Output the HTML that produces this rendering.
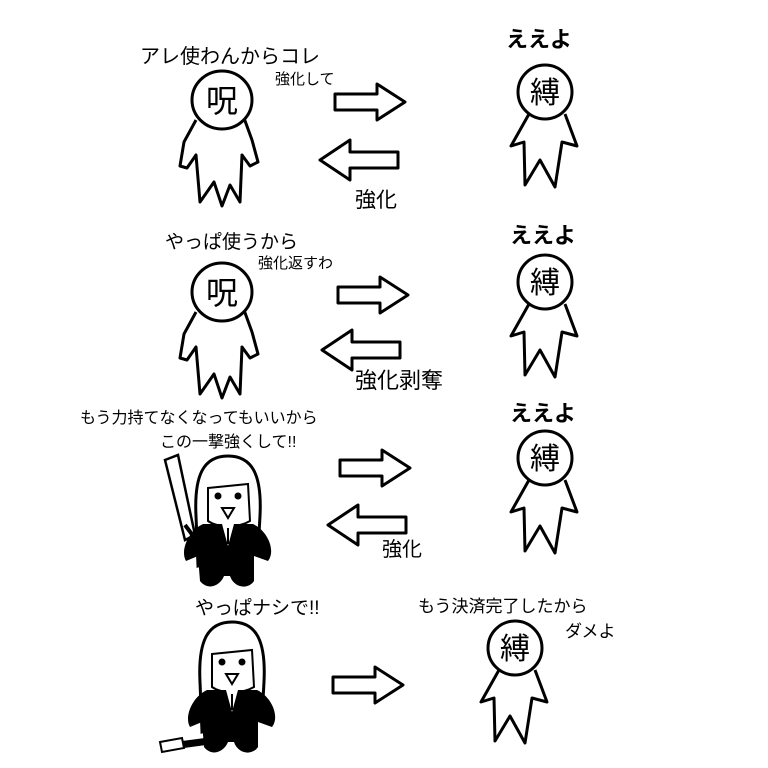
<!DOCTYPE html>
<html><head><meta charset="utf-8"><style>
html,body{margin:0;padding:0;background:#fff;}
svg{display:block;}
text{font-family:"Liberation Sans","Noto Sans CJK JP",sans-serif;fill:#000;}
</style></head><body>
<svg width="768" height="768" viewBox="0 0 768 768" xmlns="http://www.w3.org/2000/svg">
<defs>
<g id="ghost" fill="#fff" stroke="#000" stroke-width="3" stroke-linejoin="round">
  <path d="M-26,20 L-38,42 L-42,66 L-35,68 L-26,55 L-22,102 L-8,82 L0,106 L8,85 L18,102 L20,55 L28,66 L36,62 L30,40 L22,18"/>
  <ellipse cx="0" cy="0" rx="30" ry="29"/>
  <text x="0" y="12" font-size="32" text-anchor="middle" stroke="none" fill="#000">呪</text>
</g>
<g id="man" fill="#fff" stroke="#000" stroke-width="3" stroke-linejoin="round">
  <path d="M-16,22 L-34,54 L-21,50 L-20,93 L-5,68 L10,95 L17,50 L32,54 L20,22"/>
  <circle cx="0" cy="0" r="27"/>
  <text x="0" y="11" font-size="30" text-anchor="middle" stroke="none" fill="#000">縛</text>
</g>
<g id="rarr" fill="#fff" stroke="#000" stroke-width="3" stroke-linejoin="round">
  <path d="M0,10 L42,10 L42,0 L70,18 L42,36 L42,26 L0,26 Z"/>
</g>
<g id="larr" fill="#fff" stroke="#000" stroke-width="3" stroke-linejoin="round">
  <path d="M78,12 L30,12 L30,0 L0,20 L30,40 L30,28 L78,28 Z"/>
</g>
<g id="girl">
  <path d="M-30,110 L-32,60 C-34,20 -25,0 0,0 C25,0 34,20 32,60 L30,95 Z" fill="#fff" stroke="#000" stroke-width="3"/>
  <path d="M-20,32 L20,28 L22,65 C10,72 -10,72 -20,65 Z" fill="#fff" stroke="#000" stroke-width="2"/>
  <circle cx="-10" cy="40" r="3.5"/><circle cx="10" cy="40" r="3.5"/>
  <path d="M-6,52 L6,52 L0,62 Z" fill="#fff" stroke="#000" stroke-width="2"/>
  <path d="M-25,68 C-40,75 -48,95 -42,105 L-30,100 L-28,125 C-20,135 -8,130 -4,120 L2,120 C6,132 20,134 26,125 L26,100 L40,105 C48,95 40,75 25,68 Z" fill="#000"/>
  <path d="M-6,68 L0,90 L6,68 Z" fill="#fff"/>
  <path d="M-1,72 L1,72 L1,88 L-1,88Z" fill="#000"/>
</g>
</defs>

<!-- Row 1 -->
<text x="140" y="63" font-size="20">アレ使わんからコレ</text>
<text x="275" y="84" font-size="15">強化して</text>
<use href="#ghost" x="222" y="100"/>
<use href="#rarr" x="335" y="84"/>
<use href="#larr" x="320" y="140"/>
<text x="355" y="207" font-size="21">強化</text>
<text x="506" y="47" font-size="22" font-weight="bold">ええよ</text>
<use href="#man" x="545" y="92"/>

<!-- Row 2 -->
<text x="165" y="248" font-size="19">やっぱ使うから</text>
<text x="258" y="268" font-size="15">強化返すわ</text>
<use href="#ghost" x="222" y="292"/>
<use href="#rarr" x="338" y="277"/>
<use href="#larr" x="322" y="330"/>
<text x="355" y="388" font-size="22">強化剥奪</text>
<text x="510" y="243" font-size="22" font-weight="bold">ええよ</text>
<use href="#man" x="545" y="282"/>

<!-- Row 3 -->
<text x="80" y="423" font-size="16">もう力持てなくなってもいいから</text>
<text x="160" y="447" font-size="16">この一撃強くして!!</text>
<path d="M165,460 L178,455 L195,535 L185,540 Z" fill="#fff" stroke="#000" stroke-width="2.5"/>
<path d="M185,525 L200,545" stroke="#000" stroke-width="4"/>
<use href="#girl" x="228" y="456"/>
<use href="#rarr" x="340" y="450"/>
<use href="#larr" x="328" y="505"/>
<text x="382" y="556" font-size="20">強化</text>
<text x="510" y="421" font-size="22" font-weight="bold">ええよ</text>
<use href="#man" x="545" y="458"/>

<!-- Row 4 -->
<text x="195" y="614" font-size="19">やっぱナシで!!</text>
<use href="#girl" x="232" y="622"/>
<path d="M160,742 L182,738 L184,748 L162,752 Z" fill="#fff" stroke="#000" stroke-width="2"/>
<path d="M182,741 L205,738 L206,745 L184,748 Z" fill="#000"/>
<use href="#rarr" x="333" y="667"/>
<text x="418" y="612" font-size="17">もう決済完了したから</text>
<text x="565" y="637" font-size="17">ダメよ</text>
<use href="#man" x="515" y="648"/>
</svg>
</body></html>
